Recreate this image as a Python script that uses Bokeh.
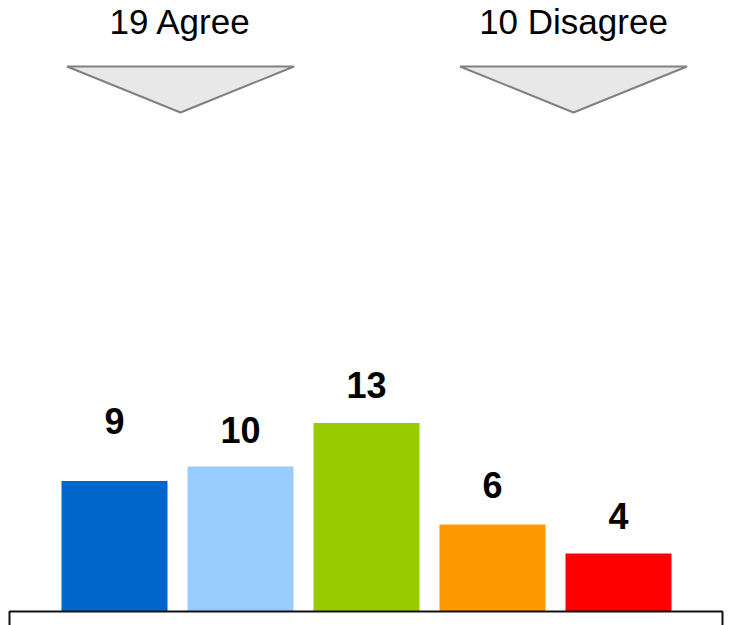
from bokeh.plotting import figure
from bokeh.models import ColumnDataSource, BoxAnnotation, Range1d
from bokeh.core.properties import value
from bokeh.embed import file_html
from bokeh.resources import INLINE

# ---- data ----
categories = ["Strongly agree", "Agree", "Neutral", "Disagree", "Strongly disagree"]
counts = [9, 10, 13, 6, 4]
colors = ["#0066CC", "#99CCFF", "#99CC00", "#FF9900", "#FF0000"]
agree_total = counts[0] + counts[1]
disagree_total = counts[3] + counts[4]
header_labels = [f"{agree_total} Agree", f"{disagree_total} Disagree"]

# ---- layout (screen pixels) ----
W, H = 729, 625
PX_X = 126.0      # px per category step
PX_Y = 14.5       # px per count unit
X0_PX = 114.0     # screen x of first bar centre
BASE_PX = 611.0   # screen y of baseline

def dx(px):
    return 1 + (px - X0_PX) / PX_X

def dy(py):
    return (BASE_PX - py) / PX_Y

p = figure(width=W, height=H, output_backend="svg", toolbar_location=None,
           x_range=Range1d(dx(0), dx(W)), y_range=Range1d(dy(H), dy(0)),
           min_border=0, min_border_left=0, min_border_right=0,
           min_border_top=0, min_border_bottom=0)
p.axis.visible = False
p.grid.visible = False
p.outline_line_color = None
p.background_fill_color = "white"
p.border_fill_color = "white"

xs = list(range(1, len(counts) + 1))
src = ColumnDataSource(dict(x=xs, top=counts, color=colors,
                            label=[str(c) for c in counts],
                            yoff=[-60, -37, -38, -40, -38]))
p.vbar(x="x", top="top", bottom=0, width=106 / PX_X, color="color",
       line_color=None, source=src)
p.text(x="x", y="top", text="label", y_offset="yoff", source=src,
       text_align="center", text_baseline="alphabetic",
       text_font=value("Liberation Sans"), text_font_style="bold",
       text_font_size="36px", text_color="black")

# baseline frame
p.add_layout(BoxAnnotation(left=dx(9), right=dx(722), top=0, bottom=dy(H + 20),
                           fill_color=None, fill_alpha=0, line_color="#111111",
                           line_alpha=1.0, line_width=2))

# header arrows and labels
centers_px = [180, 573]
half_w = 113.5
tri_x = [[dx(c - half_w), dx(c + half_w), dx(c)] for c in centers_px]
tri_y = [[dy(66), dy(66), dy(112)] for _ in centers_px]
p.patches(tri_x, tri_y, fill_color="#E8E8E8", line_color="#808080", line_width=2)
p.text(x=[dx(c) for c in centers_px], y=[dy(34)] * 2, text=header_labels,
       y_offset=-13,
       text_align="center", text_baseline="alphabetic",
       text_font=value("Liberation Sans"), text_font_size="35px",
       text_color="black")

open("out.html", "w").write(file_html(p, INLINE))
